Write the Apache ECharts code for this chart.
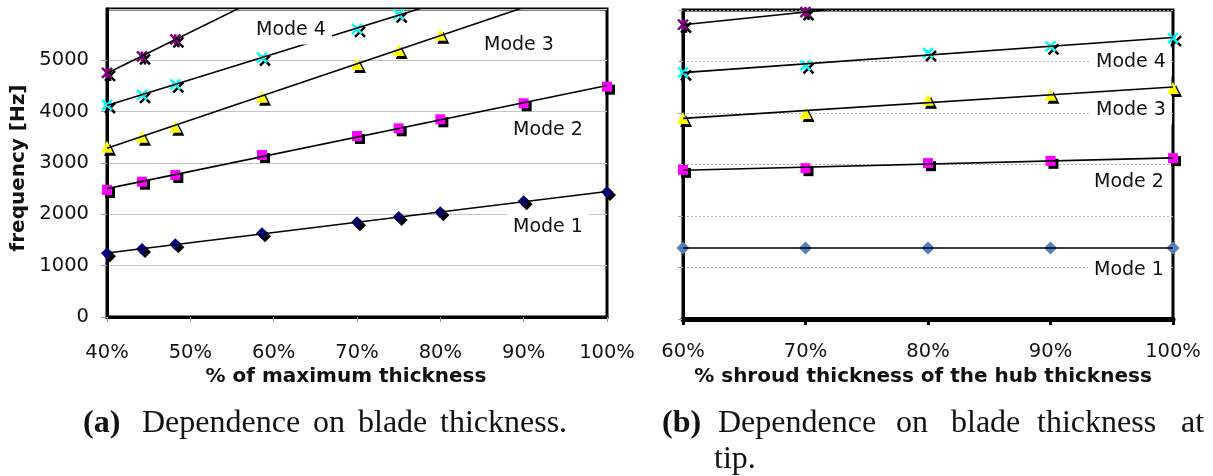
<!DOCTYPE html>
<html>
<head>
<meta charset="utf-8">
<script src="https://cdn.jsdelivr.net/npm/echarts@6/dist/echarts.min.js"></script>
<style>
  html, body { margin: 0; padding: 0; background: #fff; }
  #chart { width: 1213px; height: 476px; }
</style>
</head>
<body>
<div id="chart"></div>
<script>
// ---- (a) natural frequencies vs. blade thickness ----
const bladePct   = [40, 44.2, 48.2, 58.6, 70, 75, 80, 90, 100];
const bladeMode1 = [1240, 1325, 1415, 1630, 1845, 1950, 2040, 2255, 2435];
const bladeMode2 = [2475, 2636, 2766, 3156, 3526, 3676, 3851, 4163, 4487];
const bladeMode3 = [3318, 3513, 3708, 4292, 4930, 5200, 5500];
const bladeMode4 = [4130, 4325, 4533, 5052, 5611, 5897];
const bladeMode5 = [4755, 5075, 5410];

// ---- (b) natural frequencies vs. shroud thickness ----
const shroudPct   = [60, 70, 80, 90, 100];
const shroudMode1 = [1380, 1380, 1380, 1380, 1380];
const shroudMode2 = [2896, 2929, 3026, 3071, 3123];
const shroudMode3 = [3903, 4000, 4258, 4355, 4485];
const shroudMode4 = [4788, 4924, 5165, 5293, 5456];
const shroudMode5 = [5714, 5960];

const modeNames  = ['Mode 1', 'Mode 2', 'Mode 3', 'Mode 4'];
const titleA     = '% of maximum thickness';
const titleB     = '% shroud thickness of the hub thickness';
const titleY     = 'frequency [Hz]';
const captionA   = ['(a)', 'Dependence', 'on', 'blade', 'thickness.'];
const captionB   = ['(b)', 'Dependence', 'on', 'blade', 'thickness', 'at'];
const captionB2  = 'tip.';

const SANS  = '"DejaVu Sans", Verdana, sans-serif';
const SERIF = '"Liberation Serif", "Times New Roman", serif';

// least-squares straight line through a set of points
function linearFit(xs, ys) {
  const n = ys.length;
  let sx = 0, sy = 0, sxx = 0, sxy = 0;
  for (let i = 0; i < n; i++) {
    sx += xs[i]; sy += ys[i]; sxx += xs[i] * xs[i]; sxy += xs[i] * ys[i];
  }
  const b = (n * sxy - sx * sy) / (n * sxx - sx * sx);
  const a = (sy - b * sx) / n;
  return [a, b];
}
function trendPoints(xs, ys, x0, x1) {
  const [a, b] = linearFit(xs, ys);
  return [[x0, a + b * x0], [x1, a + b * x1]];
}

const SYM_X    = 'path://M0,0L10,10M10,0L0,10';
const SYM_STAR = 'path://M0,0L10,10M10,0L0,10M5,0L5,10';

function markers(gi, xs, ys, symbol, color, size, opts) {
  opts = opts || {};
  const style = { color: color, opacity: 1 };
  if (opts.stroke) { style.borderColor = color; style.borderWidth = 2.5; }
  if (opts.shadow !== false) {
    style.shadowColor = '#000';
    style.shadowOffsetX = 3;
    style.shadowOffsetY = 3;
    style.shadowBlur = 0;
  }
  return {
    type: 'scatter', xAxisIndex: gi, yAxisIndex: gi,
    data: ys.map((v, i) => [xs[i], v]),
    symbol: symbol, symbolSize: size, itemStyle: style,
    silent: true, z: 3
  };
}
function trend(gi, xs, ys, x0, x1) {
  return {
    type: 'line', xAxisIndex: gi, yAxisIndex: gi,
    data: trendPoints(xs, ys, x0, x1),
    showSymbol: false, symbol: 'none', silent: true, clip: true,
    lineStyle: { color: '#000', width: 1.6 }, z: 4
  };
}

const tickFont = { fontFamily: SANS, fontSize: 19.5, color: '#111' };

const chart = echarts.init(document.getElementById('chart'));

function modeLabel(text, x, cy) {
  return {
    type: 'text', z: 100,
    style: {
      text: text, x: x, y: cy, font: '19px ' + SANS, fill: '#111',
      verticalAlign: 'middle', backgroundColor: '#fff', padding: [5, 6]
    }
  };
}
function plainText(text, x, y, font, align) {
  return {
    type: 'text', z: 100,
    style: { text: text, x: x, y: y, font: font, fill: '#111',
             align: align || 'left', verticalAlign: 'middle' }
  };
}

// caption word placement (justified first line of (b), hanging indent on its second)
const captionAX = [83, 142, 313, 358, 440];
const captionBX = [662, 718, 896, 951, 1037, 1181];
const captionTipX = 714;
const captionLine1Y = 424;
const captionLine2Y = 460;
const captionFont = '32px ' + SERIF;
const captionBold = 'bold 32px ' + SERIF;

const captionGraphics = []
  .concat(captionA.map((w, i) => plainText(w, captionAX[i], captionLine1Y, i === 0 ? captionBold : captionFont)))
  .concat(captionB.map((w, i) => plainText(w, captionBX[i], captionLine1Y, i === 0 ? captionBold : captionFont)))
  .concat([plainText(captionB2, captionTipX, captionLine2Y, captionFont)]);

chart.setOption({
  animation: false,
  backgroundColor: '#fff',
  grid: [
    { left: 107, top: 9,  width: 500, height: 308, show: true, borderColor: '#000', borderWidth: 3 },
    { left: 683, top: 10, width: 490, height: 309, show: true, borderColor: '#000', borderWidth: 3 }
  ],
  xAxis: [
    {
      gridIndex: 0, type: 'value', min: 40, max: 100, interval: 10,
      axisLine: { lineStyle: { color: '#000', width: 3 } },
      axisTick: { length: 5, lineStyle: { color: '#999', width: 1 } },
      axisLabel: Object.assign({ formatter: '{value}%', margin: 26 }, tickFont),
      splitLine: { show: false }
    },
    {
      gridIndex: 1, type: 'value', min: 60, max: 100, interval: 10,
      axisLine: { lineStyle: { color: '#000', width: 5 } },
      axisTick: { length: 6, lineStyle: { color: '#000', width: 3 } },
      axisLabel: Object.assign({ formatter: '{value}%', margin: 23 }, tickFont),
      splitLine: { show: false }
    }
  ],
  yAxis: [
    {
      gridIndex: 0, type: 'value', min: 0, max: 6000, interval: 1000,
      axisLine: { show: true, lineStyle: { color: '#000', width: 3 } },
      axisTick: { show: true, length: 6, lineStyle: { color: '#999', width: 1 } },
      axisLabel: Object.assign({ margin: 18, showMaxLabel: false,
                                 formatter: function (v) { return String(v); } }, tickFont),
      splitLine: { show: true, lineStyle: { color: '#c4c4c4', width: 1 } }
    },
    {
      gridIndex: 1, type: 'value', min: 0, max: 6000, interval: 1000,
      axisLine: { show: true, lineStyle: { color: '#000', width: 3 } },
      axisTick: { show: true, length: 5, lineStyle: { color: '#aaa', width: 1 } },
      axisLabel: { show: false },
      splitLine: { show: true, lineStyle: { color: '#b8b8b8', width: 1, type: [2, 2] } }
    }
  ],
  series: [
    // (a)
    markers(0, bladePct, bladeMode1, 'diamond', '#000080', 12),
    markers(0, bladePct, bladeMode2, 'rect', '#ff00ff', 10),
    markers(0, bladePct, bladeMode3, 'triangle', '#ffff00', 12),
    markers(0, bladePct, bladeMode4, SYM_X, '#00ffff', 10, { stroke: true }),
    markers(0, bladePct, bladeMode5, SYM_STAR, '#800080', 10, { stroke: true }),
    trend(0, bladePct, bladeMode1, 40, 100),
    trend(0, bladePct, bladeMode2, 40, 100),
    trend(0, bladePct, bladeMode3, 40, 100),
    trend(0, bladePct, bladeMode4, 40, 100),
    trend(0, bladePct, bladeMode5, 40, 100),
    // (b)
    markers(1, shroudPct, shroudMode1, 'diamond', '#4f81bd', 13, { shadow: false }),
    markers(1, shroudPct, shroudMode2, 'rect', '#ff00ff', 10),
    markers(1, shroudPct, shroudMode3, 'triangle', '#ffff00', 12),
    markers(1, shroudPct, shroudMode4, SYM_X, '#00ffff', 10, { stroke: true }),
    markers(1, shroudPct, shroudMode5, SYM_STAR, '#800080', 10, { stroke: true }),
    trend(1, shroudPct, shroudMode1, 60, 100),
    trend(1, shroudPct, shroudMode2, 60, 100),
    trend(1, shroudPct, shroudMode3, 60, 100),
    trend(1, shroudPct, shroudMode4, 60, 100),
    trend(1, shroudPct, shroudMode5, 60, 100)
  ],
  graphic: [
    // curve labels, (a)
    modeLabel(modeNames[3], 250, 30),
    modeLabel(modeNames[2], 478, 45),
    modeLabel(modeNames[1], 507, 130),
    modeLabel(modeNames[0], 507, 227),
    // curve labels, (b)
    modeLabel(modeNames[3], 1090, 62),
    modeLabel(modeNames[2], 1090, 110),
    modeLabel(modeNames[1], 1088, 182),
    modeLabel(modeNames[0], 1088, 270),
    // axis titles
    plainText(titleA, 346, 377, 'bold 20px ' + SANS, 'center'),
    plainText(titleB, 923, 377, 'bold 20px ' + SANS, 'center'),
    {
      type: 'text', z: 100, x: 19, y: 168, rotation: Math.PI / 2,
      style: { text: titleY, x: 0, y: 0, font: 'bold 20px ' + SANS, fill: '#111',
               align: 'center', verticalAlign: 'middle' }
    }
  ].concat(captionGraphics)
});
</script>
</body>
</html>
